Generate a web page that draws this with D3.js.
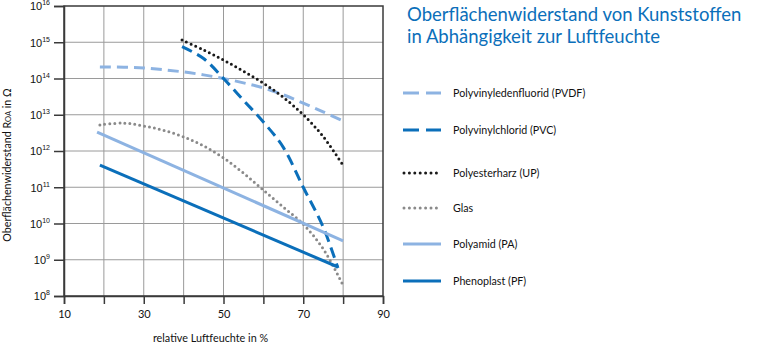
<!DOCTYPE html>
<html>
<head>
<meta charset="utf-8">
<script src="https://cdn.jsdelivr.net/npm/d3@7"></script>
<style>
  body { margin: 0; background: #fff; }
  svg { display: block; font-family: "Lato", "Open Sans", sans-serif; }
</style>
</head>
<body>
<svg id="chart" width="760" height="356"></svg>
<script>
// ---- data ----
const xTickValues = [10, 20, 30, 40, 50, 60, 70, 80, 90];
const xTickLabels = ["10", "", "30", "", "50", "", "70", "", "90"];
const yExponents = [8, 9, 10, 11, 12, 13, 14, 15, 16];

const humidity_PVDF = [19, 25, 30, 35, 40, 45, 50, 55, 60, 65, 70, 75, 80];
const log_PVDF      = [14.32, 14.31, 14.29, 14.24, 14.18, 14.10, 14.0, 13.88, 13.74, 13.55, 13.32, 13.08, 12.83];

const humidity_PVC = [39.6, 45, 50, 55, 60, 65, 70, 75, 78.7];
const log_PVC      = [14.88, 14.55, 14.0, 13.4, 12.8, 12.1, 11.0, 9.9, 8.77];

const humidity_UP = [39.6, 45, 50, 55, 60, 65, 70, 75, 80];
const log_UP      = [15.06, 14.79, 14.51, 14.2, 13.87, 13.48, 13.0, 12.4, 11.6];

const humidity_Glas = [19, 25, 30, 35, 40, 45, 50, 55, 60, 65, 70, 75, 79.7];
const log_Glas      = [12.72, 12.77, 12.69, 12.57, 12.39, 12.14, 11.81, 11.39, 10.92, 10.45, 9.98, 9.3, 8.36];

const humidity_PA = [18.3, 80];
const log_PA      = [12.52, 9.52];

const humidity_PF = [19, 78.7];
const log_PF      = [11.61, 8.8];

const seriesNames = ["Polyvinyledenfluorid (PVDF)", "Polyvinylchlorid (PVC)", "Polyesterharz (UP)", "Glas", "Polyamid (PA)", "Phenoplast (PF)"];

// ---- styles ----
const styles = [
  { color: "#8db3e2", dash: "11 6",  legendDash: "16 7", cap: "butt",  width: 3 },
  { color: "#0b6fba", dash: "11 6",  legendDash: "16 7", cap: "butt",  width: 3 },
  { color: "#1a1a1a", dash: "0 5",   legendDash: "0 5.4", cap: "round", width: 3 },
  { color: "#8a8a8a", dash: "0 5",   legendDash: "0 5.4", cap: "round", width: 3 },
  { color: "#8db3e2", dash: null,    legendDash: null,  cap: "butt",  width: 3 },
  { color: "#0b6fba", dash: null,    legendDash: null,  cap: "butt",  width: 3 }
];
const seriesData = [
  [humidity_PVDF, log_PVDF],
  [humidity_PVC, log_PVC],
  [humidity_UP, log_UP],
  [humidity_Glas, log_Glas],
  [humidity_PA, log_PA],
  [humidity_PF, log_PF]
];

const svg = d3.select("#chart");
const pLeft = 64, pRight = 383, pTop = 6, pBottom = 296;

const x = d3.scaleLinear().domain([10, 90]).range([pLeft, pRight]);
const y = d3.scaleLog().domain([1e8, 1e16]).range([pBottom, pTop]);

// grid
const grid = svg.append("g");
grid.selectAll("line.v").data(xTickValues.slice(1, -1)).enter().append("line")
  .attr("x1", d => x(d)).attr("x2", d => x(d)).attr("y1", pTop).attr("y2", pBottom)
  .attr("stroke", "#9a9a9a").attr("stroke-width", 1);
grid.selectAll("line.h").data(yExponents.slice(1, -1)).enter().append("line")
  .attr("y1", d => y(Math.pow(10, d))).attr("y2", d => y(Math.pow(10, d)))
  .attr("x1", pLeft).attr("x2", pRight)
  .attr("stroke", "#9a9a9a").attr("stroke-width", 1);

// frame
svg.append("rect").attr("x", pLeft).attr("y", pTop).attr("width", pRight - pLeft).attr("height", pBottom - pTop)
  .attr("fill", "none").attr("stroke", "#3a3a3a").attr("stroke-width", 1.5);

// x axis
const xAxis = d3.axisBottom(x).tickValues(xTickValues).tickSize(8).tickPadding(6)
  .tickFormat((d, i) => xTickLabels[i]);
const gx = svg.append("g").attr("transform", `translate(0,${pBottom})`).call(xAxis);
gx.select(".domain").attr("stroke", "#3a3a3a").attr("stroke-width", 1.5);
gx.selectAll(".tick line").attr("stroke", "#3a3a3a").attr("stroke-width", 1.5);
gx.selectAll(".tick text").attr("font-size", 11).attr("fill", "#111").attr("font-family", "Lato, sans-serif");

// y axis
const yAxis = d3.axisLeft(y).tickValues(yExponents.map(e => Math.pow(10, e))).tickSize(10).tickFormat("");
const gy = svg.append("g").attr("transform", `translate(${pLeft},0)`).call(yAxis);
gy.select(".domain").attr("stroke", "#3a3a3a").attr("stroke-width", 1.5);
gy.selectAll(".tick line").attr("stroke", "#3a3a3a").attr("stroke-width", 1.5);
gy.selectAll(".tick").each(function(d) {
  const e = Math.round(Math.log10(d));
  const t = d3.select(this).append("text")
    .attr("x", -14).attr("y", 0).attr("dy", "0.35em")
    .attr("text-anchor", "end").attr("font-size", 11).attr("fill", "#111");
  t.append("tspan").text("10");
  t.append("tspan").attr("font-size", 7).attr("dy", "-0.7em").text(String(e));
});

// lines
const line = d3.line().x(d => x(d[0])).y(d => y(Math.pow(10, d[1]))).curve(d3.curveCatmullRom.alpha(0.5));
seriesData.forEach((s, i) => {
  const pts = s[0].map((h, j) => [h, s[1][j]]);
  const st = styles[i];
  svg.append("path").datum(pts).attr("d", line)
    .attr("fill", "none").attr("stroke", st.color).attr("stroke-width", st.width)
    .attr("stroke-linecap", st.cap)
    .attr("stroke-dasharray", st.dash);
});

// legend
const legendY = [93, 130, 173, 208, 244, 281];
seriesNames.forEach((name, i) => {
  const st = styles[i];
  const g = svg.append("g").attr("transform", `translate(0,${legendY[i]})`);
  g.append("line").attr("x1", st.cap === "round" ? 404 : 403).attr("x2", 441).attr("y1", 0).attr("y2", 0)
    .attr("stroke", st.color).attr("stroke-width", st.width)
    .attr("stroke-linecap", st.cap).attr("stroke-dasharray", st.legendDash);
  g.append("text").attr("x", 453).attr("y", 0).attr("dy", "0.35em")
    .attr("font-size", 10.7).attr("fill", "#111").text(name);
});

// title
const title = svg.append("text").attr("fill", "#0b6fba").attr("font-size", 18.5);
title.append("tspan").attr("x", 407).attr("y", 21).text("Oberflächenwiderstand von Kunststoffen");
title.append("tspan").attr("x", 407).attr("y", 43).text("in Abhängigkeit zur Luftfeuchte");

// axis titles
svg.append("text").attr("x", (pLeft + pRight) / 2 - 13).attr("y", 342).attr("text-anchor", "middle")
  .attr("font-size", 10.8).attr("fill", "#111").text("relative Luftfeuchte in %");

const yt = svg.append("text").attr("transform", `translate(11,165) rotate(-90)`).attr("text-anchor", "middle")
  .attr("font-size", 10.7).attr("fill", "#111");
yt.append("tspan").text("Oberflächenwiderstand R");
yt.append("tspan").attr("font-size", 7.5).text("OA");
yt.append("tspan").text(" in Ω");
</script>
</body>
</html>
